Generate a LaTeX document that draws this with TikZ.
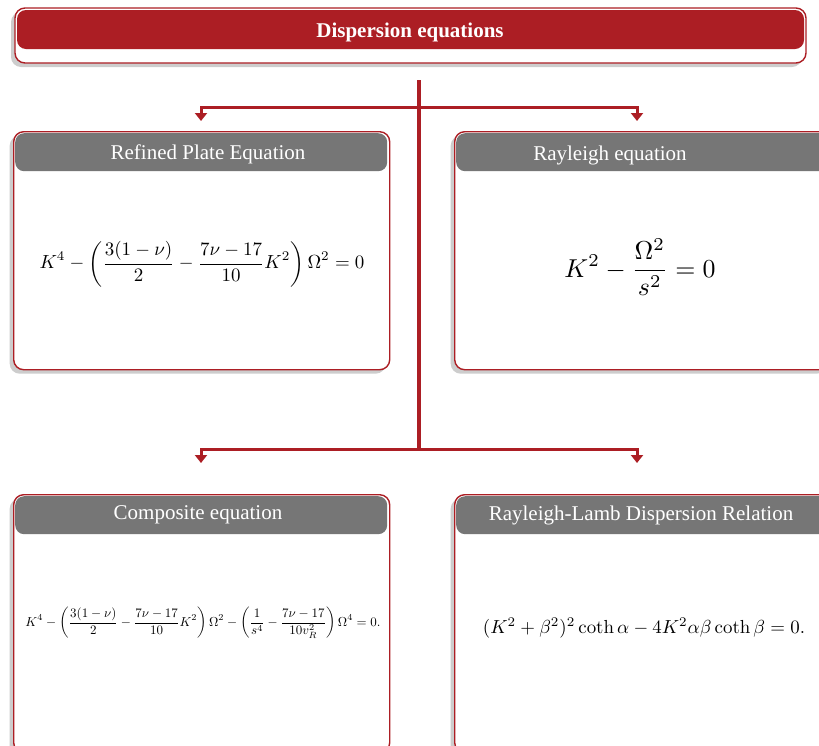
\documentclass[tikz,border=0pt]{standalone}
\usepackage[no-math]{fontspec}
\setmainfont{Liberation Serif}
\usepackage{graphicx}
\usetikzlibrary{arrows.meta,shadows}
\definecolor{dred}{HTML}{AC1E24}
\definecolor{hgrey}{HTML}{767676}
\definecolor{shgrey}{HTML}{CDCDCD}
\begin{document}
\begin{tikzpicture}[x=1pt,y=-1pt,
  outerbox/.style={draw=dred, line width=1.4pt, fill=white, rounded corners=10pt, inner sep=0pt,
    drop shadow={shadow xshift=-4pt, shadow yshift=-4pt, fill=shgrey, opacity=1}},
  hdr/.style={fill=hgrey, rounded corners=9pt, inner sep=0pt},
  tophdr/.style={fill=dred, rounded corners=9pt, inner sep=0pt},
  htext/.style={text=white, font=\fontsize{21}{24}\selectfont, inner sep=0pt},
  conn/.style={draw=dred, line width=3pt, -{Triangle[width=12pt,length=8pt]}},
  trunk/.style={draw=dred, line width=3.4pt}]
\useasboundingbox (0,0) rectangle (819,745);
\clip (0,0) rectangle (819,745);

% top box
\node[outerbox, minimum width=791pt, minimum height=55pt] (top) at (410.5,35.5) {};
\node[tophdr, minimum width=787pt, minimum height=39pt] (toph) at (410.5,29.5) {};
\node[htext, font=\fontsize{21}{24}\selectfont\bfseries] (title) at (410,32.5) {Dispersion equations};

% box 1
\node[outerbox, minimum width=376pt, minimum height=238pt, anchor=north west] (b1) at (13,131) {};
\node[hdr, minimum width=372pt, minimum height=38pt, anchor=north west] (h1) at (15,133) {};
\node[htext] (t1) at (208,154) {Refined Plate Equation};
\node[inner sep=0pt] (e1) at (202,264) {\resizebox{325pt}{!}{$\displaystyle K^4-\left(\frac{3(1-\nu)}{2}-\frac{7\nu-17}{10}K^2\right)\Omega^2=0$}};

% box 2
\node[outerbox, minimum width=376pt, minimum height=238pt, anchor=north west] (b2) at (454,131) {};
\node[hdr, minimum width=372pt, minimum height=38pt, anchor=north west] (h2) at (456,133) {};
\node[htext] (t2) at (610,155) {Rayleigh equation};
\node[inner sep=0pt] (e2) at (640,267) {\resizebox{151pt}{!}{$\displaystyle K^2-\frac{\Omega^2}{s^2}=0$}};

% box 3
\node[outerbox, minimum width=376pt, minimum height=258pt, anchor=north west] (b3) at (13,494) {};
\node[hdr, minimum width=372pt, minimum height=38pt, anchor=north west] (h3) at (15,496) {};
\node[htext] (t3) at (198,515) {Composite equation};
\node[inner sep=0pt] (e3) at (203,623) {\resizebox{355pt}{!}{$\displaystyle K^4-\left(\frac{3(1-\nu)}{2}-\frac{7\nu-17}{10}K^2\right)\Omega^2-\left(\frac{1}{s^4}-\frac{7\nu-17}{10v_R^2}\right)\Omega^4=0.$}};

% box 4
\node[outerbox, minimum width=376pt, minimum height=258pt, anchor=north west] (b4) at (454,494) {};
\node[hdr, minimum width=372pt, minimum height=38pt, anchor=north west] (h4) at (456,496) {};
\node[htext] (t4) at (641,515) {Rayleigh-Lamb Dispersion Relation};
\node[inner sep=0pt] (e4) at (644,628) {\resizebox{322pt}{!}{$(K^2+\beta^2)^2\coth\alpha-4K^2\alpha\beta\coth\beta=0.$}};

% connectors
\coordinate (t0) at (419,80);
\coordinate (j1) at (419,107);
\coordinate (j2) at (419,449);
\coordinate (a1) at (201,121);
\coordinate (a2) at (637,121);
\coordinate (a3) at (201,463);
\coordinate (a4) at (637,463);
\draw[trunk] (t0) -- (j2);
\draw[conn] (j1) -| (a1);
\draw[conn] (j1) -| (a2);
\draw[conn] (j2) -| (a3);
\draw[conn] (j2) -| (a4);
\end{tikzpicture}
\end{document}
